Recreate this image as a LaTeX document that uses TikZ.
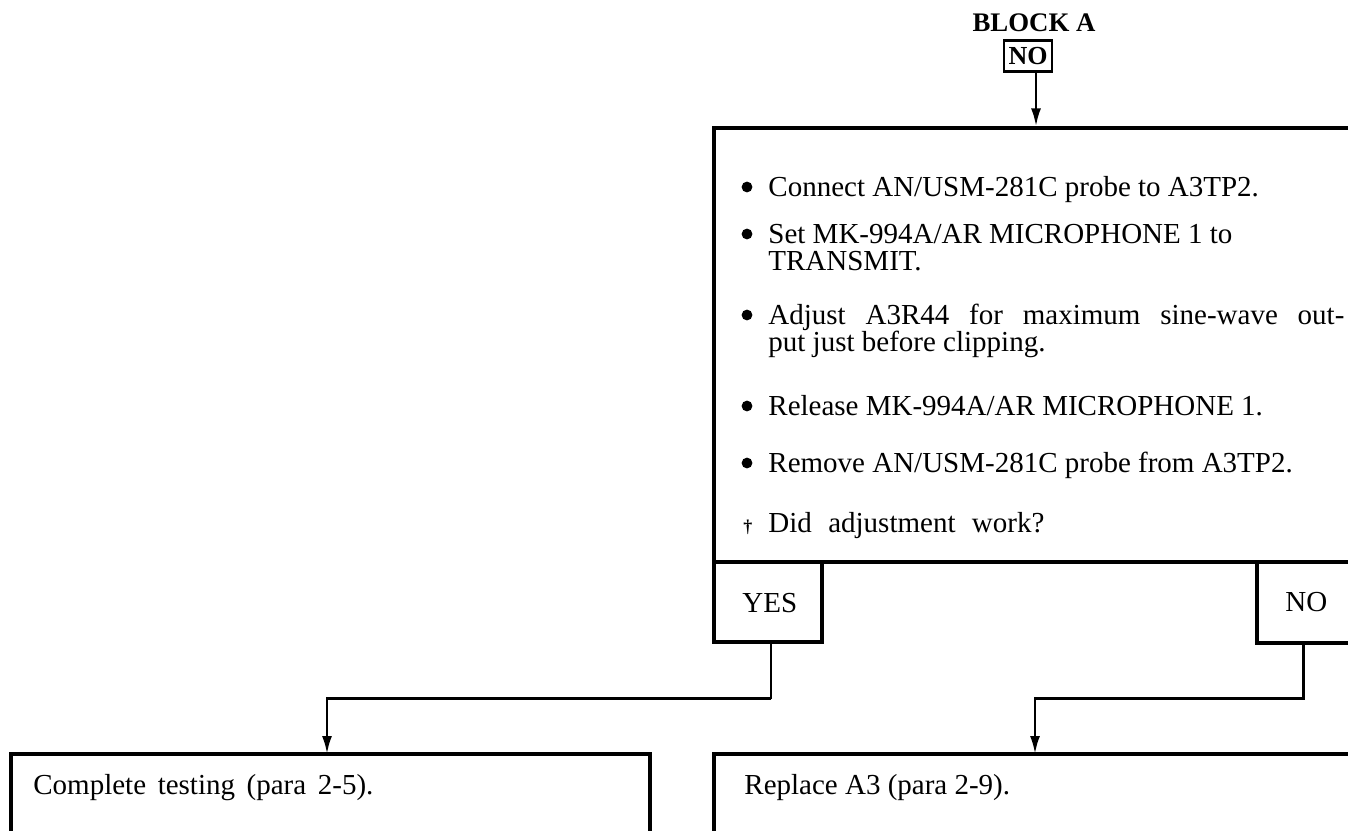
\documentclass[tikz,border=0pt]{standalone}
\usepackage{fontspec}
\setmainfont{Liberation Serif}
\usetikzlibrary{arrows.meta,positioning}

\begin{document}
\begin{tikzpicture}[x=0.5pt,y=-0.5pt,
  frame/.style={draw=black,line width=1.6pt,inner sep=0pt},
  tag/.style={draw=black,line width=1.2pt,inner sep=0pt,font=\bfseries\fontsize{13}{13}\selectfont},
  flow/.style={draw=black,line width=1.3pt},
  feed/.style={flow,-{Latex[length=9pt,width=5pt]}},
  txt/.style={anchor=base west,inner sep=0pt,font=\fontsize{14.5}{13}\selectfont},
  dot/.style={circle,fill=black,inner sep=0pt,minimum width=4.8pt,minimum height=5.4pt}]
\clip (0,0) rectangle (1348,830);
% header
\node[font=\bfseries\fontsize{13.4}{13.4}\selectfont,inner sep=0pt,anchor=base] (blk) at (1034,32) {BLOCK A};
\node[tag,minimum width=24pt,minimum height=15.5pt] (blkno) at (1028,56) {NO};
% procedure box with its two answers
\node[frame,minimum width=343pt,minimum height=217pt] (main) at (1057,345) {};
\node[frame,minimum width=54pt,minimum height=40pt] (yes) at (768,602) {};
\node[frame,minimum width=71.5pt,minimum height=40.5pt] (no) at (1328.5,602.5) {};
% end boxes
\node[frame,minimum width=319.5pt,minimum height=73pt] (done) at (330.5,827) {};
\node[frame,minimum width=343pt,minimum height=73pt] (swap) at (1057,827) {};
\coordinate (donein) at (327,754);
\coordinate (swapin) at (1035,754);
% steps
\foreach \n/\yb/\t in {1/196/{Connect AN/USM-281C probe to A3TP2.},
                       2/243/{Set MK-994A/AR MICROPHONE 1 to},
                       3/270/{TRANSMIT.},
                       4/324/{\makebox[288pt][s]{Adjust A3R44 for maximum sine-wave out-}},
                       5/351/{put just before clipping.},
                       6/415/{Release MK-994A/AR MICROPHONE 1.},
                       7/472/{Remove AN/USM-281C probe from A3TP2.},
                       8/532/{\makebox[138pt][s]{Did adjustment work?}}}
  \node[txt] (ln\n) at (768,\yb) {\t};
\foreach \n/\yb in {1/196,2/243,3/324,4/415,5/472}
  \node[dot] (dot\n) at (747,\yb-9) {};
\node[txt,font=\bfseries\fontsize{9}{9}\selectfont] (ask) at (743,532) {\textdagger};
\node[txt] (yeslbl) at (742,612) {YES};
\node[txt] (nolbl) at (1285,611) {NO};
\node[txt] (donelbl) at (33,794) {\makebox[170pt][s]{Complete testing (para 2-5).}};
\node[txt] (swaplbl) at (744,794) {Replace A3 (para 2-9).};
% connectors
\path (blkno.south) ++(8,0) coordinate (drop);
\draw[feed] (drop) -- (drop |- main.north);
\draw[flow,line width=1pt] (yes.south) ++(3,0) -- ++(0,55) coordinate (yesbend);
\draw[feed] (yesbend) -| (donein);
\draw[feed] (no.south west) ++(48,0) -- ++(0,54) -| (swapin);
\end{tikzpicture}
\end{document}
